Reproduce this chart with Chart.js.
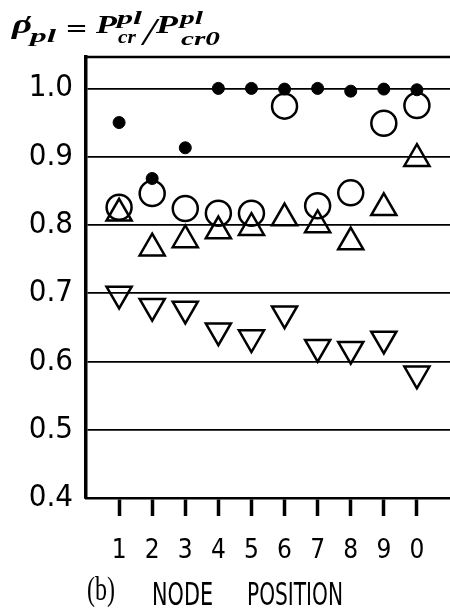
<!DOCTYPE html>
<html>
<head>
<meta charset="utf-8">
<script src="https://cdn.jsdelivr.net/npm/chart.js@4"></script>
<style>
  html, body { margin: 0; padding: 0; background: #fff; overflow: hidden; }
  #wrap { width: 450px; height: 611px; position: relative; }
  #chart { display: block; }
</style>
</head>
<body>
<div id="wrap"><canvas id="chart"></canvas></div>
<script>
// ── data ──
const nodes      = [1, 2, 3, 4, 5, 6, 7, 8, 9, 10];
const nodeLabels = ['1', '2', '3', '4', '5', '6', '7', '8', '9', '0'];
const yTicks     = [0.4, 0.5, 0.6, 0.7, 0.8, 0.9, 1.0];

const solidDots     = [0.950, 0.868, 0.913, 1.000, 1.000, 0.999, 1.000, 0.996, 0.999, 0.998];
const openCircles   = [0.826, 0.846, 0.824, 0.817, 0.817, 0.974, 0.828, 0.847, 0.949, 0.975];
const upTriangles   = [0.817, 0.766, 0.778, 0.791, 0.796, 0.810, 0.800, 0.775, 0.825, 0.897];
const downTriangles = [0.699, 0.681, 0.677, 0.645, 0.635, 0.670, 0.621, 0.618, 0.633, 0.582];

const COND  = '"DejaVu Sans Condensed", "DejaVu Sans", sans-serif';
const SERIF = '"Liberation Serif", "DejaVu Serif", serif';

const pts = arr => arr.map((v, i) => ({ x: nodes[i], y: v }));

// text drawn at a baseline, optionally squeezed to a width
function txt(ctx, s, font, x, y, w) {
  ctx.save();
  ctx.font = font;
  ctx.fillStyle = '#000';
  ctx.textBaseline = 'alphabetic';
  ctx.textAlign = 'left';
  const m = ctx.measureText(s).width;
  ctx.translate(x, y);
  if (w) ctx.scale(w / m, 1);
  ctx.fillText(s, 0, 0);
  ctx.restore();
}

const frame = {
  id: 'frame',
  afterDraw(chart) {
    const { ctx, chartArea: a } = chart;
    ctx.save();
    ctx.strokeStyle = '#000';
    ctx.lineWidth = 2.5;
    ctx.beginPath();
    ctx.moveTo(a.left, a.top);
    ctx.lineTo(a.right, a.top);
    ctx.stroke();
    ctx.restore();

    // ρ'pl = P^pl_cr / P^pl_cr0
    const bi = s => `italic bold ${s}px ${SERIF}`;
    txt(ctx, 'ρ',   bi(28), 12, 33, 20);
    txt(ctx, '′',   `bold 26px "DejaVu Serif", serif`, 25, 35, 7);
    txt(ctx, 'pl',  bi(19), 30, 42, 26);
    txt(ctx, '=',   `26px "DejaVu Serif", serif`, 65, 37, 23);
    txt(ctx, 'P',   bi(26), 96, 33, 21);
    txt(ctx, 'pl',  bi(18), 117, 24, 25);
    txt(ctx, 'cr',  bi(18), 118, 43, 18);
    txt(ctx, '/',   `italic 40px ${SERIF}`, 143, 45, 13);
    txt(ctx, 'P',   bi(26), 156, 33, 22);
    txt(ctx, 'pl',  bi(18), 180, 24, 23);
    txt(ctx, 'cr0', bi(18), 181, 45, 39);

    // (b) NODE POSITION
    txt(ctx, '(b)', `34px ${SERIF}`, 87, 600, 28);
    txt(ctx, 'NODE', `32px ${COND}`, 152, 605, 61);
    txt(ctx, 'POSITION', `32px ${COND}`, 247, 605, 96);
  }
};

new Chart(document.getElementById('chart'), {
  type: 'scatter',
  data: {
    datasets: [{
      label: 'solid',
      data: pts(solidDots),
      pointStyle: 'circle',
      pointRadius: 6,
      backgroundColor: '#000',
      borderColor: '#000',
      borderWidth: 1,
    }, {
      label: 'circle',
      data: pts(openCircles),
      pointStyle: 'circle',
      pointRadius: 12.5,
      backgroundColor: 'rgba(0,0,0,0)',
      borderColor: '#000',
      borderWidth: 2.5,
    }, {
      label: 'up',
      data: pts(upTriangles),
      pointStyle: 'triangle',
      pointRadius: 14.5,
      backgroundColor: 'rgba(0,0,0,0)',
      borderColor: '#000',
      borderWidth: 2.5,
    }, {
      label: 'down',
      data: pts(downTriangles),
      pointStyle: 'triangle',
      rotation: 180,
      pointRadius: 14.5,
      backgroundColor: 'rgba(0,0,0,0)',
      borderColor: '#000',
      borderWidth: 2.5,
    }]
  },
  options: {
    responsive: true, maintainAspectRatio: false,
    animation: false,
    layout: { autoPadding: false, padding: { top: 57, right: 0, left: 0, bottom: 0 } },
    plugins: { legend: { display: false }, tooltip: { enabled: false } },
    scales: {
      x: {
        type: 'linear', min: 0, max: 11,
        afterBuildTicks: s => { s.ticks = nodes.map(v => ({ value: v })); },
        afterFit: s => { s.height = 113; s.paddingLeft = 0; s.paddingRight = 0; },
        ticks: {
          callback: v => nodeLabels[nodes.indexOf(v)],
          color: '#000', padding: 20, maxRotation: 0, autoSkip: false,
          font: { family: COND, size: 26 }
        },
        grid: { drawOnChartArea: false, drawTicks: true, tickLength: 18, tickWidth: 3.5, tickColor: '#000' },
        border: { color: '#000', width: 2.5 }
      },
      y: {
        min: 0.4, max: 1.046,
        afterBuildTicks: s => { s.ticks = yTicks.map(v => ({ value: v })); },
        afterFit: s => { s.width = 86; },
        ticks: {
          callback: v => v.toFixed(1),
          color: '#000', padding: 13,
          font: { family: COND, size: 31 }
        },
        grid: { color: '#000', lineWidth: 1.8, drawTicks: false },
        border: { color: '#000', width: 3.5 }
      }
    }
  },
  plugins: [frame]
});
</script>
</body>
</html>
